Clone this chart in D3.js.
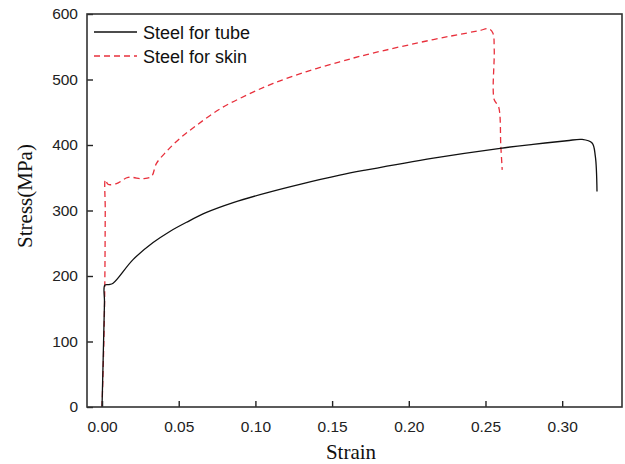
<!DOCTYPE html>
<html>
<head>
<meta charset="utf-8">
<script src="https://cdn.jsdelivr.net/npm/d3@7"></script>
<style>
  body { margin: 0; background: #fff; }
  .tick text { font-family: "Liberation Sans", Arial, sans-serif; font-size: 15.5px; fill: #222; }
  .axisTitle { font-family: "Liberation Serif", "Times New Roman", serif; font-size: 21px; fill: #111; }
  .legend text { font-family: "Liberation Sans", Arial, sans-serif; font-size: 18px; fill: #111; }
</style>
</head>
<body>
<script>
// series names
var seriesNames = ["Steel for tube", "Steel for skin"];

// tube curve: strain, stress (MPa)
var tubeStrain = [0, 0.001, 0.0016, 0.0018, 0.0045, 0.0072, 0.0202, 0.0333, 0.0442, 0.0551,
    0.0681, 0.0855, 0.1073, 0.129, 0.155, 0.1726, 0.216, 0.2596, 0.281, 0.303, 0.313, 0.3195, 0.3216, 0.3227];
var tubeStress = [0, 100, 160, 186, 187, 189, 225, 251, 268, 282,
    297, 312, 327, 340, 354, 362, 380, 395, 401, 406.5, 408.5, 403, 383, 329];

// skin curve
var skinStrain = [0, 0.0012, 0.0018, 0.0021, 0.0022, 0.0039, 0.0094, 0.017, 0.0268, 0.0322,
    0.0355, 0.042, 0.0507, 0.0616, 0.0768, 0.0942, 0.1116, 0.1334, 0.155, 0.1726, 0.216, 0.238, 0.2465,
    0.252, 0.2548, 0.2557, 0.2557, 0.2585, 0.26, 0.2609];
var skinStress = [0, 100, 186, 300, 347, 340, 341, 350.5, 348.5, 352,
    372, 390, 410, 430, 455, 476, 494, 512, 527, 538, 561, 571, 575,
    577.5, 571, 545.5, 469, 459, 398, 362];

var xTicks = [0, 0.05, 0.10, 0.15, 0.20, 0.25, 0.30];
var yTicks = [0, 100, 200, 300, 400, 500, 600];

var width = 625, height = 464;
var margin = {top: 14, right: 3, bottom: 57, left: 87};
var iwidth = width - margin.left - margin.right,
    iheight = height - margin.top - margin.bottom;

var svg = d3.select("body").append("svg")
    .attr("width", width)
    .attr("height", height);

var g = svg.append("g")
    .attr("transform", "translate(" + margin.left + "," + margin.top + ")");

var xScale = d3.scaleLinear().domain([-0.0098, 0.339]).range([0, iwidth]);
var yScale = d3.scaleLinear().domain([0, 600]).range([iheight, 0]);

var tube = tubeStrain.map(function(s, i) { return [s, tubeStress[i]]; });
var skin = skinStrain.map(function(s, i) { return [s, skinStress[i]]; });

// x turns back at the end of the curves, so no monotone-x curve
var line = d3.line()
    .x(function(d) { return xScale(d[0]); })
    .y(function(d) { return yScale(d[1]); })
    .curve(d3.curveCatmullRom.alpha(0.5));

g.append("path")
    .datum(skin)
    .attr("d", line)
    .attr("fill", "none")
    .attr("stroke", "#e8303c")
    .attr("stroke-width", 1.3)
    .attr("stroke-dasharray", "6,4");

g.append("path")
    .datum(tube)
    .attr("d", line)
    .attr("fill", "none")
    .attr("stroke", "#111")
    .attr("stroke-width", 1.3);

// axes, ticks point inward
var xAxis = g.append("g")
    .attr("transform", "translate(0," + iheight + ")")
    .call(d3.axisBottom(xScale).tickValues(xTicks).tickSize(-6).tickPadding(14)
        .tickFormat(d3.format(".2f")));

var yAxis = g.append("g")
    .call(d3.axisLeft(yScale).tickValues(yTicks).tickSize(-6).tickPadding(9)
        .tickFormat(d3.format("d")));

[xAxis, yAxis].forEach(function(a) {
    a.select(".domain").remove();
    a.selectAll(".tick line").attr("stroke", "#222").attr("stroke-width", 1.4);
});

// frame
g.append("rect")
    .attr("x", 0).attr("y", 0)
    .attr("width", iwidth).attr("height", iheight)
    .attr("fill", "none")
    .attr("stroke", "#333")
    .attr("stroke-width", 1.6);

// axis titles
svg.append("text")
    .attr("class", "axisTitle")
    .attr("x", 351)
    .attr("y", 459)
    .attr("text-anchor", "middle")
    .text("Strain");

svg.append("text")
    .attr("class", "axisTitle")
    .attr("transform", "translate(32,196) rotate(-90)")
    .attr("text-anchor", "middle")
    .text("Stress(MPa)");

// legend
var legend = svg.append("g").attr("class", "legend");
var legendStyles = [
    {stroke: "#111", dash: null},
    {stroke: "#e8303c", dash: "6,4"}
];
seriesNames.forEach(function(name, i) {
    var y = 32 + i * 24;
    legend.append("line")
        .attr("x1", 94).attr("x2", 137)
        .attr("y1", y).attr("y2", y)
        .attr("stroke", legendStyles[i].stroke)
        .attr("stroke-width", 1.3)
        .attr("stroke-dasharray", legendStyles[i].dash);
    legend.append("text")
        .attr("x", 143)
        .attr("y", y + 7)
        .text(name);
});
</script>
</body>
</html>
